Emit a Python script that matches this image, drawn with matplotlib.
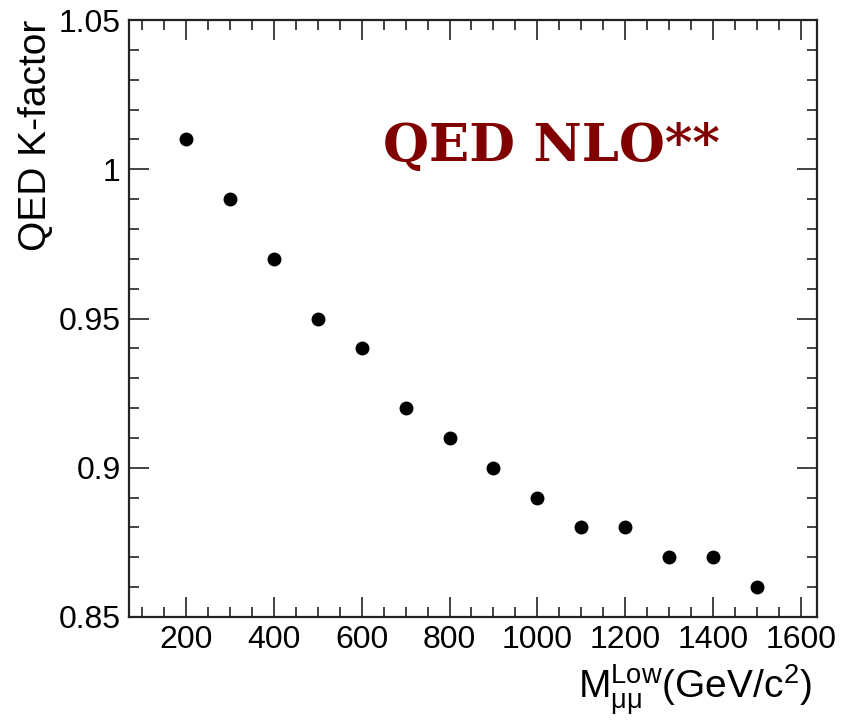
import matplotlib
matplotlib.use("Agg")
import matplotlib.pyplot as plt
from matplotlib.ticker import MultipleLocator

mass = [200, 300, 400, 500, 600, 700, 800, 900, 1000, 1100, 1200, 1300, 1400, 1500]
kfactor = [1.01, 0.99, 0.97, 0.95, 0.94, 0.92, 0.91, 0.90, 0.89, 0.88, 0.88, 0.87, 0.87, 0.86]
ytick_vals = [0.85, 0.9, 0.95, 1.0, 1.05]
ytick_labels = ['0.85', '0.9', '0.95', '1', '1.05']

plt.rcParams['font.family'] = ['Liberation Sans', 'DejaVu Sans']
plt.rcParams['mathtext.fontset'] = 'custom'
plt.rcParams['mathtext.rm'] = 'Liberation Sans'
plt.rcParams['mathtext.it'] = 'Liberation Sans'

W, H = 849, 720
fig = plt.figure(figsize=(8.49, 7.2), dpi=100)
ax = fig.add_axes([129/W, 1-617/H, (817-129)/W, (617-20)/H])

ax.plot(mass, kfactor, 'o', color='black', markersize=9)

ax.set_xlim(70, 1637)
ax.set_ylim(0.85, 1.05)
ax.xaxis.set_major_locator(MultipleLocator(200))
ax.xaxis.set_minor_locator(MultipleLocator(50))
ax.yaxis.set_minor_locator(MultipleLocator(0.01))
ax.set_yticks(ytick_vals)
ax.set_yticklabels(ytick_labels)

ax.tick_params(which='both', direction='in', top=True, right=True, width=1.2, labelsize=23, color='#222222')
ax.tick_params(which='major', length=14.5, pad=6)
ax.tick_params(which='minor', length=7.5)
for s in ax.spines.values():
    s.set_linewidth(1.6)
    s.set_color('#222222')

ax.set_ylabel('QED K-factor', fontsize=28, ha='right', va='top')
ax.yaxis.set_label_coords(18/688 - 129/688, 1.0)
ax.set_xlabel(r'M$_{\mu\mu}^{\rm Low}$(GeV/c$^{2}$)', fontsize=28, ha='right', va='baseline')
ax.xaxis.set_label_coords((812-129)/688, -(699-617)/597)

ax.text((551-129)/688, (617-147)/597, 'QED NLO**', transform=ax.transAxes, ha='center', va='center',
        fontsize=38, fontweight='bold', color='#800000', family=['DejaVu Serif'])

fig.savefig('out.png', dpi=100)
